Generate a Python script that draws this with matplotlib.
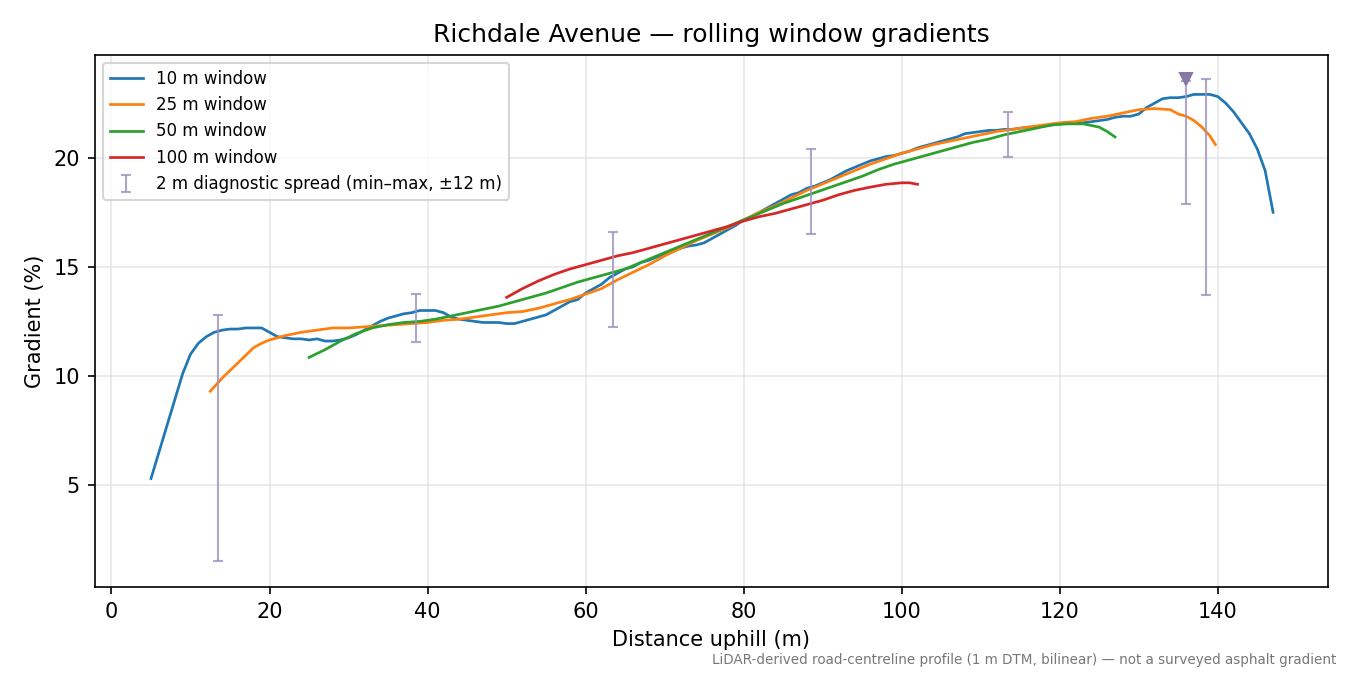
import matplotlib
matplotlib.use("Agg")
import matplotlib.pyplot as plt
import numpy as np

b_y = [5.3,6.5,7.7,8.9,10.1,11.0,11.5,11.8,12.0,12.1,12.15,12.15,12.2,12.2,12.2,12.0,11.8,11.75,11.7,11.7,11.65,11.7,11.6,11.6,11.65,11.75,11.9,12.1,12.3,12.5,12.65,12.75,12.85,12.9,13.0,13.0,13.0,12.9,12.7,12.6,12.55,12.5,12.45,12.45,12.45,12.4,12.4,12.5,12.6,12.7,12.8,13.0,13.2,13.4,13.5,13.8,14.0,14.2,14.5,14.7,14.9,15.0,15.2,15.3,15.45,15.6,15.7,15.85,15.95,16.0,16.1,16.3,16.5,16.7,16.9,17.15,17.3,17.5,17.7,17.9,18.1,18.3,18.4,18.6,18.7,18.85,19.0,19.2,19.4,19.55,19.7,19.85,19.95,20.05,20.1,20.2,20.3,20.45,20.55,20.65,20.75,20.85,20.95,21.1,21.15,21.2,21.25,21.25,21.3,21.3,21.35,21.4,21.4,21.45,21.5,21.55,21.6,21.6,21.6,21.65,21.7,21.75,21.85,21.9,21.9,22.0,22.3,22.5,22.7,22.75,22.75,22.8,22.9,22.9,22.9,22.8,22.5,22.1,21.6,21.1,20.4,19.4,17.5]
b_x = list(range(5, 5 + len(b_y)))

o_x = [12.5,14,16,18,19,20,22,24,26,28,30,32,34,36,38,40,42,44,46,48,50,52,54,56,58,60,62,64,66,68,70,72,74,76,78,80,82,84,86,88,90,92,94,96,98,100,102,104,106,108,110,112,114,116,118,120,122,124,126,128,130,132,134,135,136,137,138,139,139.7]
o_y = [9.3,9.9,10.6,11.3,11.5,11.65,11.85,12.0,12.1,12.2,12.2,12.25,12.3,12.35,12.4,12.45,12.55,12.6,12.7,12.8,12.9,12.95,13.1,13.3,13.5,13.75,14.0,14.4,14.75,15.1,15.5,15.85,16.2,16.5,16.8,17.15,17.5,17.8,18.15,18.5,18.8,19.1,19.4,19.7,19.95,20.2,20.4,20.6,20.75,20.9,21.05,21.2,21.3,21.4,21.5,21.6,21.65,21.8,21.9,22.05,22.2,22.25,22.2,22.0,21.9,21.7,21.4,21.0,20.6]

g_x = [25,27,29,31,33,35,37,39,41,43,45,47,49,51,53,55,57,59,61,63,65,67,69,71,73,75,77,79,81,83,85,87,89,91,93,95,97,99,101,103,105,107,109,111,113,115,117,119,121,123,125,126,127]
g_y = [10.85,11.2,11.6,11.95,12.2,12.35,12.45,12.5,12.6,12.75,12.9,13.05,13.2,13.4,13.6,13.8,14.05,14.3,14.5,14.7,14.9,15.2,15.5,15.8,16.1,16.4,16.7,17.0,17.3,17.6,17.9,18.15,18.4,18.65,18.9,19.15,19.45,19.7,19.9,20.1,20.3,20.5,20.7,20.85,21.05,21.2,21.35,21.5,21.55,21.55,21.4,21.2,20.95]

r_x = [50,52,54,56,58,60,62,64,66,68,70,72,74,76,78,80,82,84,86,88,90,92,94,96,98,100,101,102]
r_y = [13.6,14.0,14.35,14.65,14.9,15.1,15.3,15.5,15.65,15.85,16.05,16.25,16.45,16.65,16.85,17.1,17.3,17.45,17.65,17.85,18.05,18.3,18.5,18.65,18.78,18.85,18.85,18.78]

e_x = [13.5, 38.5, 63.5, 88.5, 113.5, 136.0, 138.5]
e_lo = [1.5, 11.55, 12.25, 16.5, 20.05, 17.9, 13.7]
e_hi = [12.8, 13.75, 16.6, 20.4, 22.1, 23.5, 23.6]
e_mid = [(l + h) / 2 for l, h in zip(e_lo, e_hi)]
peak_x, peak_y = 136.0, 23.6

fig, ax = plt.subplots(figsize=(9, 4.5), dpi=150)
ax.plot(b_x, b_y, color='#1f77b4', lw=1.3, label='10 m window')
ax.plot(o_x, o_y, color='#ff7f0e', lw=1.3, label='25 m window')
ax.plot(g_x, g_y, color='#2ca02c', lw=1.3, label='50 m window')
ax.plot(r_x, r_y, color='#d62728', lw=1.3, label='100 m window')
mid = np.array(e_mid)
ax.errorbar(e_x, mid, yerr=[mid - np.array(e_lo), np.array(e_hi) - mid], fmt='none',
            ecolor='#9d90bf', alpha=0.8, elinewidth=1.0, capsize=2.5,
            label='2 m diagnostic spread (min–max, ±12 m)')
ax.plot([peak_x], [peak_y], marker='v', color='#8878a8', ms=6, ls='none')
ax.set_xlim(-2.15, 154)
ax.set_ylim(0.32, 24.72)
ax.set_xticks([0, 20, 40, 60, 80, 100, 120, 140])
ax.set_yticks([5, 10, 15, 20])
ax.grid(True, color='#dddddd', alpha=0.7, lw=0.8)
ax.set_xlabel('Distance uphill (m)')
ax.set_ylabel('Gradient (%)')
ax.set_title('Richdale Avenue — rolling window gradients', fontsize=12)
ax.legend(loc='upper left', fontsize=8)
fig.subplots_adjust(left=0.07, right=0.984, top=0.919, bottom=0.13)
fig.text(0.99, 0.012, 'LiDAR-derived road-centreline profile (1 m DTM, bilinear) — not a surveyed asphalt gradient',
         ha='right', va='bottom', fontsize=6.5, color='#777777')
fig.savefig('out.png')
